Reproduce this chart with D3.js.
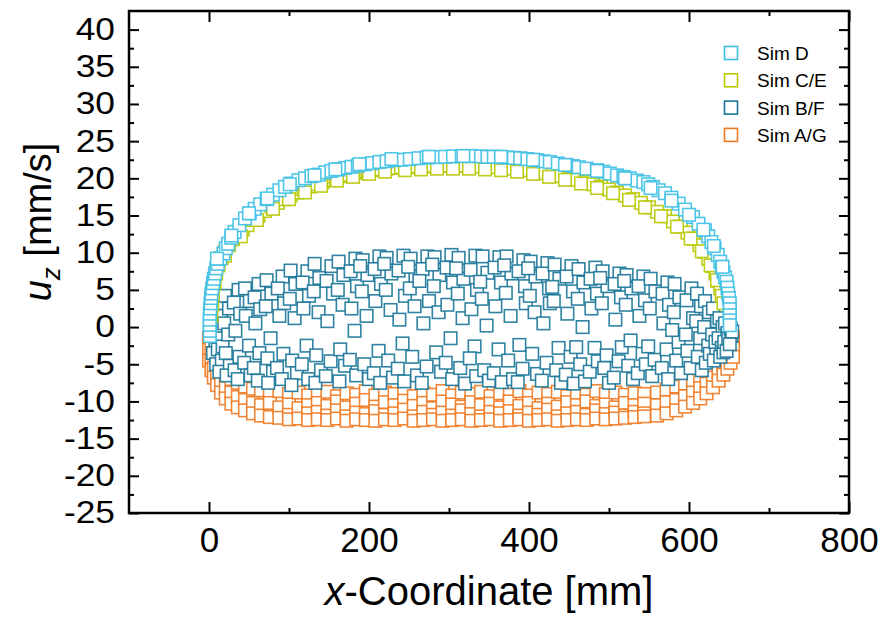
<!DOCTYPE html>
<html><head><meta charset="utf-8">
<script src="https://cdn.jsdelivr.net/npm/d3@7"></script>
<style>
body{margin:0;background:#fff}
text{font-family:Arial,"Liberation Sans",sans-serif;fill:#000}
</style>
</head><body>
<svg id="chart" width="883" height="618"></svg>
<script>
// ---------- data ----------
const xMajorTicks = [0, 200, 400, 600, 800];
const xMinorTicks = [100, 300, 500, 700];
const yMajorTicks = [-25, -20, -15, -10, -5, 0, 5, 10, 15, 20, 25, 30, 35, 40];
const yMinorTicks = [-22.5, -17.5, -12.5, -7.5, -2.5, 2.5, 7.5, 12.5, 17.5, 22.5, 27.5, 32.5, 37.5];
const seriesNames = ["Sim D", "Sim C/E", "Sim B/F", "Sim A/G"];
const seriesColors = ["#3ec0e4", "#b7c800", "#1a7698", "#f07a22"];

// Sim D [x, u_z]
const simD = [
 [1,-1.2],[1,-0.5],[1,0.3],[1,1.0],[1,1.8],[1.5,2.5],[2,3.2],[2.5,3.9],[3,4.5],[4,5.2],[5,5.9],[6,6.5],[7.5,7.2],
 [9,7.9],[11,8.5],[14,9.2],[18,9.9],[21,10.6],[24,11.2],[28,12.0],[32,12.8],[38,13.7],[45,14.6],[51,15.3],[57,15.9],
 [64,16.5],[72,17.2],[80,17.8],[88,18.4],[95,18.85],[103,19.3],[112,19.75],[120,20.0],[128,20.3],[137,20.5],[145,20.8],
 [153,21.0],[162,21.2],[170,21.4],[178,21.55],[186,21.7],[195,21.9],[204,22.05],[213,22.2],[222,22.3],[232,22.45],
 [241,22.5],[251,22.6],[262,22.7],[272,22.8],[283,22.85],[295,22.9],[305,22.95],[316,23.0],[328,23.0],[340,22.95],
 [348,22.9],[356,22.9],[365,22.85],[373,22.8],[381,22.75],[389,22.7],[398,22.6],[410,22.45],[418,22.3],[426,22.2],
 [436,22.0],[447,21.8],[455,21.65],[462,21.5],[472,21.3],[485,21.1],[493,20.9],[501,20.65],[510,20.4],[518,20.2],
 [526,20.0],[535,19.7],[543,19.5],[549,19.2],[555,18.85],[562,18.4],[570,18.0],[578,17.4],[587,16.6],[595,15.8],
 [605,14.8],[612,13.9],[620,13.0],[624,12.2],[628,11.45],[632,10.6],[636,9.7],[639,8.8],[641,8.1],[643,7.4],
 [645,6.7],[647,6.1],[648,5.3],[649,4.5],[650,3.9],[651,3.2],[651,2.4],[651,1.6],[651,0.9],[651,0.25],
 [10,9.2],[28,12.3],[50,15.3],[73,17.3],[101,19.2],[132,20.4],[158,21.2],[188,21.9],[228,22.6],[275,22.9],[318,23.0],
 [365,22.9],[405,22.5],[445,21.8],[485,21.0],[520,20.0],[552,18.7],[578,17.0],[600,15.1],[618,13.1],[631,10.9],[642,8.1]
];

// Sim C/E [x, u_z]
const simCE = [
 [3,1.5],[4,3],[5,4.5],[7,6],[9,7.2],[12,8.3],[16,9.3],[20,10.2],[25,11.0],[30,11.8],[36,12.5],[42,13.1],[48,13.7],
 [55,14.4],[62,15.0],[70,15.6],[78,16.2],[86,16.7],[94,17.2],[102,17.7],[110,18.1],[118,18.5],[126,18.9],[134,19.2],
 [142,19.5],[150,19.8],[158,20.1],[166,20.3],[174,20.5],[182,20.7],[190,20.9],[198,21.0],[206,21.1],[214,21.2],
 [222,21.3],[230,21.4],[240,21.5],[250,21.5],[260,21.6],[270,21.6],[280,21.7],[290,21.7],[300,21.7],[310,21.7],
 [320,21.7],[330,21.7],[340,21.6],[350,21.6],[360,21.5],[370,21.4],[380,21.3],[390,21.2],[400,21.1],[410,20.9],
 [420,20.7],[430,20.5],[440,20.3],[450,20.0],[460,19.8],[470,19.5],[480,19.2],[490,18.9],[500,18.5],[510,18.1],
 [520,17.7],[530,17.2],[540,16.7],[550,16.1],[560,15.5],[570,14.9],[580,14.2],[590,13.5],[598,12.7],[606,11.9],
 [613,11.0],[619,10.1],[624,9.2],[629,8.2],[633,7.2],[636,6.2],[639,5.2],[641,4.2],[643,3.2],
 [20,9.6],[40,12.2],[60,14.4],[80,15.9],[100,17.2],[120,18.1],[140,19.0],[160,19.7],[180,20.2],[200,20.6],[220,20.9],
 [245,21.1],[265,21.2],[285,21.3],[305,21.3],[325,21.3],[345,21.2],[365,21.1],[385,20.9],[405,20.6],[425,20.2],
 [445,19.8],[465,19.3],[485,18.7],[505,18.0],[525,17.1],[545,16.1],[565,14.9],[585,13.5],[602,11.9],[616,10.2],
 [627,8.3],[635,6.3]
];

// Sim B/F [x, u_z]
const simBF = [
 [3,2.5],[6,1],[4,-0.5],[8,-2],[5,-3.5],[9,-5],[7,-1.2],[4,0.4],
 [12,3.2],[15,1.5],[10,0],[14,-1.5],[11,-3],[16,-4.5],[13,-6],[17,-2.6],
 [20,4.2],[25,2.5],[19,0.5],[24,-1],[21,-3.5],[26,-5.2],[22,-6.5],
 [37,5],[31,3.3],[39,1.8],[33,-0.5],[38,-4],[32,-5.8],[36,-7],
 [45,5.2],[51,3.5],[46,1.5],[50,-2.5],[44,-4.8],[52,-6.5],
 [62,5.8],[57,4],[64,2.4],[58,0.5],[63,-3.5],[56,-5.5],[61,-7.2],
 [72,6.3],[78,4.5],[71,2.8],[77,-1.5],[73,-4.2],[80,-6],[74,-7.5],
 [92,6.8],[86,5.2],[94,3.2],[88,1.5],[93,-3.6],[85,-5.5],[91,-7],
 [102,7.6],[108,5.8],[101,3.8],[107,1.2],[104,-4.5],[110,-6.2],[103,-7.8],
 [123,7.5],[117,6],[125,4.2],[118,2.5],[122,-2.5],[116,-5],[124,-7],
 [132,8.5],[138,6.6],[131,4.8],[137,2],[134,-3.8],[140,-5.8],[133,-7.5],
 [153,8.2],[147,6.2],[155,4.5],[148,0.8],[152,-4.6],[146,-6.6],
 [162,8.8],[168,7],[161,5],[167,3],[164,-3],[170,-5.2],[163,-7.3],
 [183,9.2],[177,7.5],[185,5.5],[178,2.5],[182,-0.5],[176,-4.4],[184,-6.5],
 [192,9],[198,7],[191,4.8],[197,1.5],[194,-5],[200,-7],[189,8.2],
 [213,9.5],[207,7.8],[215,5.8],[208,3.5],[212,-3.2],[206,-6.2],[214,-7.5],
 [222,9.3],[228,7.2],[221,5],[227,2.3],[224,-4.5],[230,-6.8],[219,8.5],
 [243,9.6],[237,7.6],[245,4.2],[238,1],[242,-2.2],[236,-5.6],[244,-7.3],
 [252,9.2],[258,6.8],[251,5.2],[257,2.8],[254,-4],[260,-6.5],[249,8.1],
 [273,9.5],[267,7.8],[275,3.5],[268,0.5],[272,-5.3],[266,-7.5],[263,6.2],
 [282,9.4],[288,7],[281,5.5],[287,2],[284,-3.4],[290,-6],[279,8.4],
 [303,9.7],[297,8],[305,6],[298,3],[302,-1.5],[296,-4.8],[304,-7],
 [312,9.3],[318,6.5],[311,4.5],[317,1.2],[314,-5.5],[320,-7.6],[309,7.9],
 [333,9.6],[327,7.7],[335,5],[328,2.4],[332,-2.6],[326,-4.2],[334,-6.6],
 [342,9.5],[348,7.3],[341,3.8],[347,0.2],[344,-5.8],[350,-7.2],[339,6.1],
 [363,9.4],[357,8],[365,6],[358,2.8],[362,-3],[356,-6.2],[366,-7.4],
 [372,9.5],[378,7.2],[371,4.6],[377,1.5],[374,-4.5],[380,-7],[369,8.3],
 [393,9],[387,7.5],[395,5.5],[388,-2.4],[392,-5.6],[386,-7.4],[396,3.2],
 [402,8.8],[408,6.8],[401,4.2],[407,2],[404,-3.6],[410,-6.3],[399,7.9],
 [423,8.6],[417,7.2],[425,5.2],[418,0.5],[422,-4.8],[416,-7.2],[426,3.2],
 [432,8.4],[438,6.5],[431,3.5],[437,-2.8],[434,-5.8],[440,-7.5],[429,5.4],
 [453,8.2],[447,6.8],[455,4.8],[448,1.8],[452,-4],[446,-6.4],[456,-7.6],
 [462,7.8],[468,6],[461,3.8],[467,0],[464,-5],[470,-7.3],[459,-2.7],
 [483,8],[477,6.5],[485,4.5],[478,2.5],[482,-2.8],[476,-6],[486,-4.6],
 [492,7.5],[498,5.5],[491,3.2],[497,-3.8],[494,-5.5],[500,-7.5],[489,6.6],
 [513,7.2],[507,5.8],[515,4],[508,1],[512,-4.6],[506,-6.8],[516,-2.7],
 [522,7],[528,5.2],[521,3],[527,-1.8],[524,-5.2],[530,-7],[519,6.2],
 [543,6.8],[537,5.5],[545,3.6],[538,1.5],[542,-3.6],[536,-6.2],[546,-5],
 [552,6.5],[558,4.8],[551,2.5],[557,-4.4],[554,-6.6],[549,-2.6],
 [573,6],[567,4.5],[575,3],[568,0.5],[572,-3],[566,-5.5],[574,-7],
 [582,5.8],[588,4],[581,2],[587,-2],[584,-4.5],[590,-6.2],[579,-0.4],
 [603,5.2],[597,3.6],[605,1.2],[598,-3.2],[602,-5.5],[596,-1],
 [610,4.5],[615,2.8],[609,0.8],[614,-1.5],[611,-4],[616,-5.8],
 [620,3.5],[625,2],[619,0],[624,-2.5],[621,-4.8],[626,-3.6],
 [630,2.5],[635,0.8],[629,-1],[634,-3],[631,-4.5],[633,-2],
 [638,1.2],[642,0],[637,-1.5],[641,-2.8],[639,-4],[643,-3.4],
 [645,0.5],[648,-0.8],[644,-2],[647,-3.2],[649,-1.5],
 [652,-0.2],[653,-1.2],[651,-2.3],[654,-0.6]
];

// Sim A/G: columns of [x, [u_z values]]
const simAGcols = [
 [0,[-1.5,-3,-4.5]],[3,[-2.2,-4,-5.8]],[6,[-3.5,-5.5,-6.8]],[10,[-4.5,-6.5,-7.8]],[15,[-5.5,-7.4,-8.8]],
 [21,[-6.3,-8.2,-9.6]],[28,[-7,-8.8,-10.3]],[36,[-7.5,-9.4,-10.8]],[45,[-8,-9.8,-11.2]],[55,[-8.3,-10.2,-11.6]],
 [65,[-8.5,-10.5,-11.9]],[76,[-8.8,-10.2,-12.1]],[88,[-8.6,-10.8,-12.2]],[100,[-9,-10.4,-11.8,-12.4]],
 [112,[-8.8,-10.9,-12.3]],[124,[-9.2,-10.5,-11.6,-12.5]],
 [136,[-9.0,-10.2,-11.4,-12.4]],[148,[-8.7,-10.6,-11.9,-12.5]],[160,[-9.3,-10.0,-11.2,-12.3]],
 [172,[-8.9,-10.8,-12.0,-12.6]],[184,[-9.1,-10.3,-11.5,-12.4]],[196,[-8.6,-9.8,-11.7,-12.5]],
 [208,[-9.2,-10.7,-11.3,-12.6]],[220,[-8.8,-10.1,-11.8,-12.4]],[232,[-9.0,-10.5,-11.6,-12.5]],
 [244,[-8.7,-9.9,-11.1,-12.3]],[256,[-9.3,-10.6,-12.0,-12.6]],[268,[-8.9,-10.2,-11.4,-12.5]],
 [280,[-9.1,-10.9,-11.8,-12.4]],[292,[-8.6,-10.0,-11.5,-12.6]],[304,[-9.2,-10.4,-11.9,-12.5]],
 [316,[-8.8,-10.7,-11.2,-12.4]],[328,[-9.0,-10.1,-11.7,-12.6]],[340,[-8.7,-10.5,-12.0,-12.5]],
 [352,[-9.3,-10.3,-11.4,-12.4]],[364,[-8.9,-10.8,-11.6,-12.6]],[376,[-9.1,-10.0,-11.3,-12.5]],
 [388,[-8.6,-10.6,-11.9,-12.4]],[400,[-9.2,-10.2,-11.5,-12.6]],[412,[-8.8,-10.9,-11.8,-12.5]],
 [424,[-9.0,-10.3,-11.1,-12.4]],[436,[-8.7,-10.7,-12.0,-12.6]],[448,[-9.3,-10.1,-11.6,-12.5]],
 [460,[-8.9,-10.5,-11.4,-12.4]],[472,[-9.1,-10.0,-11.8,-12.5]],[484,[-8.6,-10.6,-11.2,-12.3]],
 [496,[-9.0,-10.4,-11.7,-12.4]],[508,[-8.8,-10.8,-11.5,-12.3]],[520,[-9.1,-10.2,-11.9,-12.2]],
 [532,[-8.9,-10.5,-11.4,-12.1]],[544,[-9.0,-10.3,-11.6,-12.0]],
 [560,[-8.8,-10.5,-11.9]],[572,[-8.4,-10.1,-11.6]],[584,[-8,-9.8,-11.2]],[595,[-7.6,-9.3,-10.7]],
 [605,[-7.2,-8.8,-10.2]],[614,[-6.6,-8.2,-9.6]],[622,[-6,-7.6,-8.9]],[630,[-5.2,-6.8,-8.1]],
 [637,[-4.4,-6,-7.2]],[643,[-3.6,-5.2,-6.4]],[648,[-2.8,-4.4,-5.6]],[652,[-2,-3.6,-4.8]],[655,[-1.4,-2.8,-4]]
];

// ---------- chart ----------
const pLeft = 129, pRight = 849, pTop = 11, pBottom = 513;
const svg = d3.select("#chart");

const x = d3.scaleLinear().domain([-100, 800]).range([pLeft, pRight]);
const y = d3.scaleLinear().domain([-25, 42.5]).range([pBottom, pTop]);

const flat = cols => cols.flatMap(([xv, us]) => us.map(u => [xv, u]));
const seriesData = [simD, simCE, simBF, flat(simAGcols)];

// markers (draw order: A/G, B/F, C/E, D)
const MS = 12.5;
const plot = svg.append("g");
[3, 2, 1, 0].forEach(i => {
  plot.append("g").selectAll("rect").data(seriesData[i]).join("rect")
    .attr("x", d => x(d[0]) - MS / 2)
    .attr("y", d => y(d[1]) - MS / 2)
    .attr("width", MS).attr("height", MS)
    .attr("fill", "#fff")
    .attr("stroke", seriesColors[i])
    .attr("stroke-opacity", 0.9)
    .attr("stroke-width", 1.6);
});

// axes (ticks inward)
function axisG(axis, tx, ty) {
  const g = svg.append("g").attr("transform", `translate(${tx},${ty})`).call(axis);
  g.select(".domain").remove();
  g.selectAll("line").attr("stroke", "#000").attr("stroke-width", 2);
  return g;
}
const fmt = d => String(d);
const FF = "Arial, 'Liberation Sans', sans-serif";
// left
const gl = axisG(d3.axisLeft(y).tickValues(yMajorTicks).tickSize(-10).tickPadding(14).tickFormat(fmt), pLeft, 0);
gl.selectAll("text").attr("font-size", 31).attr("fill", "#000").attr("font-family", FF).each(function () {
  const len = this.getComputedTextLength();
  d3.select(this).attr("textLength", len * 1.14).attr("lengthAdjust", "spacingAndGlyphs");
});
axisG(d3.axisLeft(y).tickValues(yMinorTicks).tickSize(-5).tickFormat(""), pLeft, 0);
// right
axisG(d3.axisRight(y).tickValues(yMajorTicks).tickSize(-10).tickFormat(""), pRight, 0);
axisG(d3.axisRight(y).tickValues(yMinorTicks).tickSize(-5).tickFormat(""), pRight, 0);
// bottom
const gb = axisG(d3.axisBottom(x).tickValues(xMajorTicks).tickSize(-11).tickPadding(14).tickFormat(fmt), 0, pBottom);
gb.selectAll("text").attr("font-size", 35).attr("fill", "#000").attr("font-family", FF);
axisG(d3.axisBottom(x).tickValues(xMinorTicks).tickSize(-5).tickFormat(""), 0, pBottom);
// top
axisG(d3.axisTop(x).tickValues(xMajorTicks).tickSize(-11).tickFormat(""), 0, pTop);
axisG(d3.axisTop(x).tickValues(xMinorTicks).tickSize(-5).tickFormat(""), 0, pTop);

// frame
svg.append("rect").attr("x", pLeft).attr("y", pTop)
  .attr("width", pRight - pLeft).attr("height", pBottom - pTop)
  .attr("fill", "none").attr("stroke", "#000").attr("stroke-width", 2.5);

// axis titles
const xt = svg.append("text").attr("x", (pLeft + pRight) / 2).attr("y", 605)
  .attr("text-anchor", "middle").attr("font-size", 40);
xt.append("tspan").attr("font-style", "italic").text("x");
xt.append("tspan").text("-Coordinate [mm]");

const yt = svg.append("text").attr("transform", "translate(51,222) rotate(-90)")
  .attr("text-anchor", "middle").attr("font-size", 38);
yt.append("tspan").attr("font-style", "italic").text("u");
yt.append("tspan").attr("font-style", "italic").attr("font-size", 26).attr("dy", 9).text("z");
yt.append("tspan").attr("dy", -9).text(" [mm/s]");

// legend
const lg = svg.append("g");
seriesNames.forEach((name, i) => {
  const cy = 53 + i * 27.3;
  lg.append("rect").attr("x", 731 - 6.5).attr("y", cy - 6.5).attr("width", 13).attr("height", 13)
    .attr("fill", "#fff").attr("stroke", seriesColors[i]).attr("stroke-width", 1.6);
  lg.append("text").attr("x", 757).attr("y", cy + 7).attr("font-size", 19).attr("fill", "#111").text(name);
});
</script>
</body></html>
